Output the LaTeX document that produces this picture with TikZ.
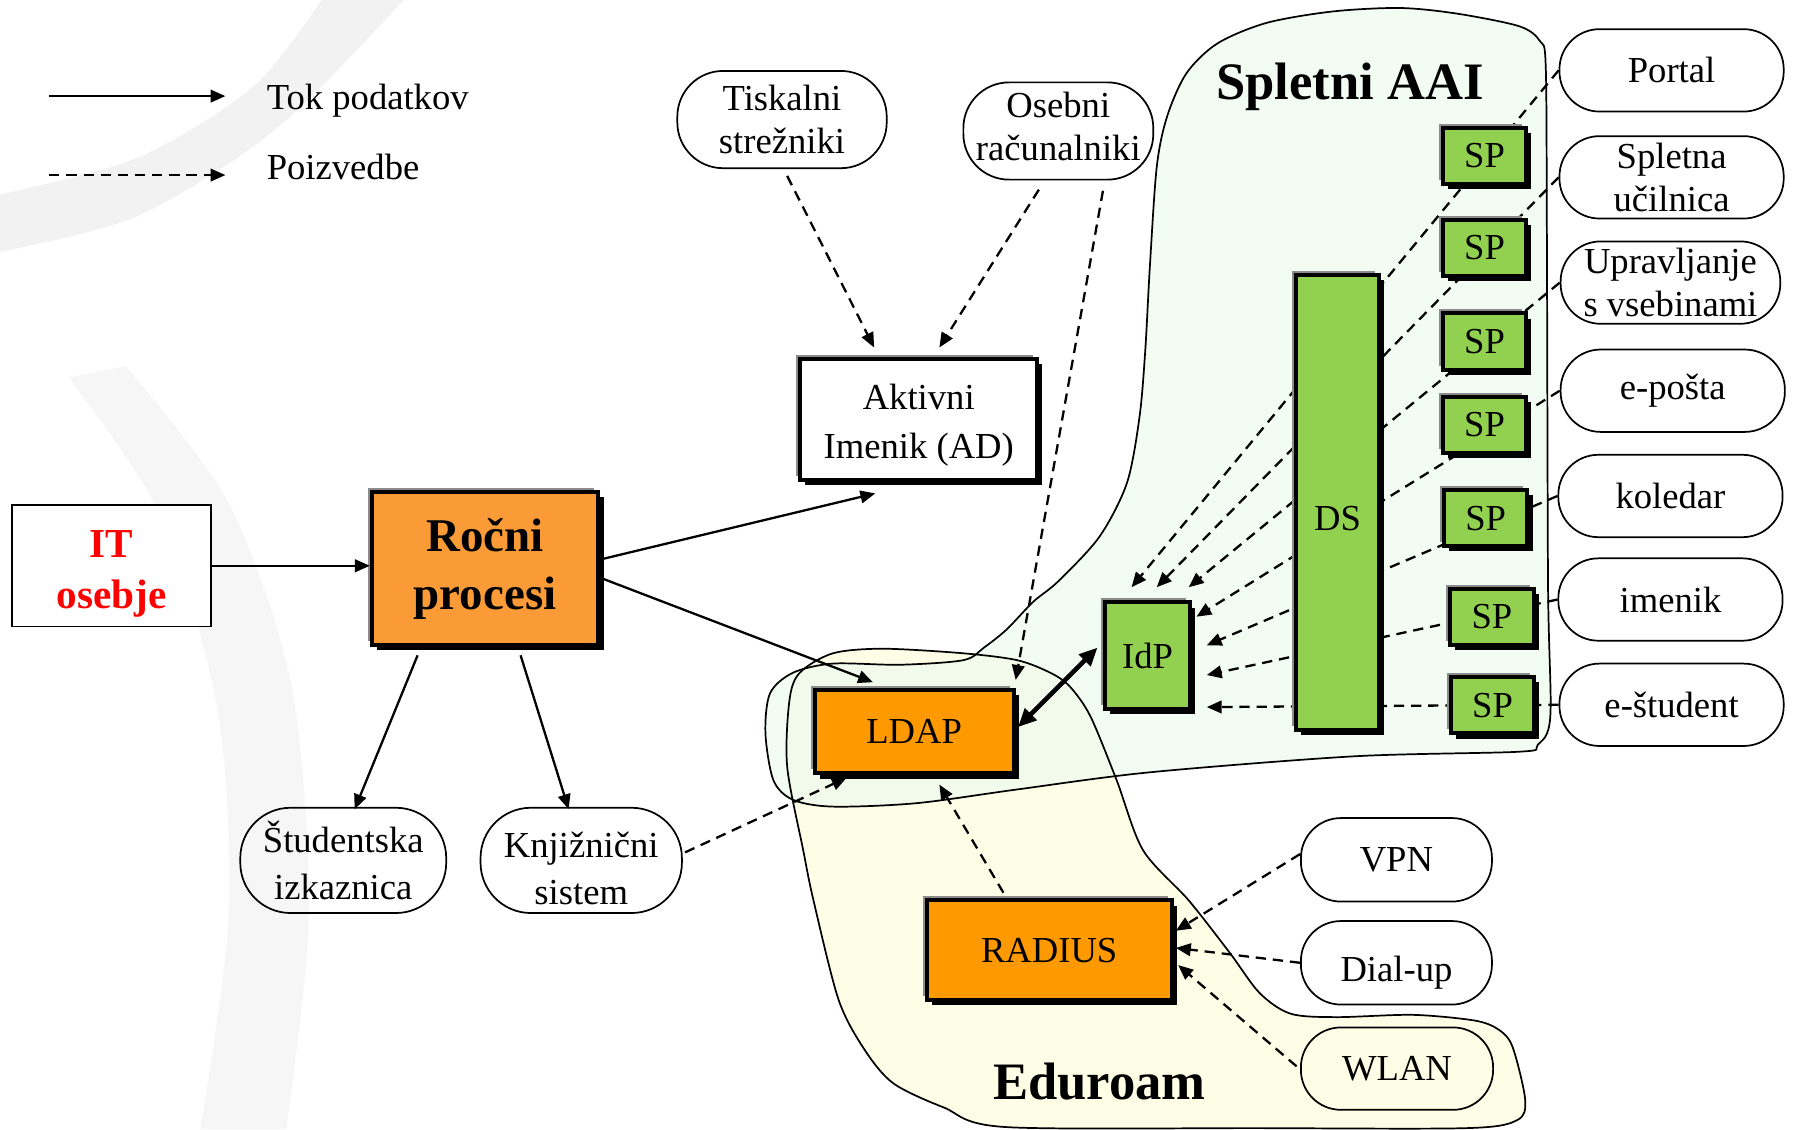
\documentclass[tikz,border=0pt]{standalone}
\usepackage{fontspec}
\setmainfont{Liberation Serif}
\usetikzlibrary{arrows.meta,shadows,calc}
\definecolor{orA}{RGB}{250,155,55}
\definecolor{orB}{RGB}{255,153,0}
\definecolor{grn}{RGB}{146,208,80}
\definecolor{spletfill}{RGB}{238,251,238}
\definecolor{edufill}{RGB}{254,254,230}
\definecolor{swoosh}{RGB}{242,242,242}
\definecolor{swooshB}{RGB}{246,246,246}
\pgfdeclarelayer{regions}
\pgfdeclarelayer{behind}
\pgfsetlayers{regions,behind,main}
\begin{document}
\begin{tikzpicture}[x=1pt,y=-1pt,line join=miter,
  txt/.style={font=\fontsize{32}{38}\selectfont, align=center, inner sep=0pt},
  pill/.style={draw, line width=1.5pt, rounded corners=#1, txt},
  box3d/.style={draw=black, line width=3.5pt, txt,
    general shadow={shadow xshift=-3.5pt, shadow yshift=3.5pt, fill=black!45},
    general shadow={shadow xshift=4.5pt, shadow yshift=-4.5pt, fill=black}},
  spbox/.style={box3d, fill=grn, minimum width=73pt, minimum height=49pt},
  rpill/.style={pill=35, minimum width=196pt, minimum height=72pt},
  flow/.style={line width=2pt, -{Triangle[length=13pt,width=11pt]}},
  query/.style={flow, dash pattern=on 9pt off 6pt},
  region/.style={line width=1.5pt, draw=black},
  regtitle/.style={font=\bfseries\fontsize{46}{50}\selectfont, inner sep=0pt}]

\useasboundingbox (0,0) rectangle (1568,987);

% ---------------- nodes ----------------
\node[draw, line width=1.5pt, fill=white, minimum width=174pt, minimum height=106pt,
      text=red, font=\bfseries\fontsize{36}{44}\selectfont, align=center] (it) at (97.5,494.5) {\rule{0pt}{38pt}IT\\osebje};
\node[box3d, fill=orA, minimum width=198pt, minimum height=134pt,
      font=\bfseries\fontsize{41}{51}\selectfont] (rocni) at (424,497) {Ročni\\procesi};
\node[box3d, fill=white, minimum width=207pt, minimum height=106pt,
      font=\fontsize{32}{43}\selectfont] (ad) at (803,366.5) {\rule{0pt}{32pt}Aktivni\\Imenik (AD)};

\node[pill=40, minimum width=183pt, minimum height=85pt] (tisk) at (683.5,104.5) {Tiskalni\\strežniki};
\node[pill=40, minimum width=166pt, minimum height=85pt] (oseb) at (925,114.5) {Osebni\\računalniki\rule[-8pt]{0pt}{8pt}};

\node[pill=44, minimum width=180pt, minimum height=92pt, font=\fontsize{32}{41}\selectfont] (stud) at (300,752) {Študentska\\izkaznica};
\node[pill=44, minimum width=176pt, minimum height=92pt, font=\fontsize{32}{41}\selectfont] (knjiz) at (508,752) {\rule{0pt}{36pt}Knjižnični\\sistem};

\node[box3d, fill=orB, minimum width=174pt, minimum height=73pt] (ldap) at (799,639.5) {LDAP};
\node[box3d, fill=orB, minimum width=214pt, minimum height=87pt] (radius) at (917,830.5) {RADIUS};
\node[box3d, fill=grn, minimum width=74pt, minimum height=93pt] (idp) at (1003,573) {IdP};
\node[box3d, fill=grn, minimum width=72pt, minimum height=398pt, text height=50pt, text depth=0pt] (ds) at (1169,439) {DS};

\node[spbox] (sp1) at (1297.5,136) {SP};
\node[spbox] (sp2) at (1297.5,216.5) {SP};
\node[spbox] (sp3) at (1297.5,298.5) {SP};
\node[spbox] (sp4) at (1297.5,371.5) {SP};
\node[spbox] (sp5) at (1298.5,453) {SP};
\node[spbox] (sp6) at (1304,539) {SP};
\node[spbox] (sp7) at (1304.5,616.5) {SP};

\node[rpill] (portal) at (1461,61.5) {Portal};
\node[rpill] (spletna) at (1461,155) {Spletna\\učilnica};
\node[rpill, minimum width=192pt] (uprav) at (1460,247) {Upravljanje\\s vsebinami};
\node[rpill] (eposta) at (1462,341.5) {e-pošta};
\node[rpill] (koledar) at (1460,433.5) {koledar};
\node[rpill] (imenik) at (1460,524) {imenik};
\node[rpill] (estud) at (1461,616) {e-študent};

\node[pill=35, minimum width=167pt, minimum height=73pt] (vpn) at (1220.5,751.5) {VPN};
\node[pill=35, minimum width=167pt, minimum height=73pt, text height=40pt, text depth=7pt] (dial) at (1220.5,841.5) {Dial-up};
\node[pill=35, minimum width=168pt, minimum height=72pt] (wlan) at (1221,934) {WLAN};

\node[regtitle] (aai) at (1180,76) {Spletni AAI};
\node[regtitle] (edu) at (961,945) {Eduroam};

% legend
\coordinate (l1a) at (43,84);  \coordinate (l1b) at (197,84);
\coordinate (l2a) at (43,153); \coordinate (l2b) at (197,153);
\draw[flow] (l1a) -- (l1b);
\draw[query] (l2a) -- (l2b);
\node[txt, anchor=west] (lg1) at (233,88) {Tok podatkov};
\node[txt, anchor=west] (lg2) at (233,146) {Poizvedbe};

% ---------------- connectors ----------------
\draw[flow] (it.east) -- (it.east -| rocni.west);
\draw[flow] ($(rocni.east)+(0,-8)$) -- ($(ad.south)+(-38,10)$);
\draw[flow] ($(rocni.east)+(0,8)$) -- ($(ldap.north)+(-36,-5)$);
\draw[flow] ($(rocni.south)+(-59,7)$) -- ($(stud.north)+(10,2)$);
\draw[flow] ($(rocni.south)+(31,7)$) -- ($(knjiz.north)+(-11,2)$);

\draw[query] ($(knjiz.east)+(2,-7)$) -- ($(ldap.south)+(-59,2)$);
\draw[query] ($(tisk.south)+(4.5,6)$) -- ($(ad.north)+(-39,-8)$);
\draw[query] ($(oseb.south)+(-17,8)$) -- ($(ad.north)+(18,-8)$);
\draw[query] ($(oseb.south)+(39,9)$) -- ($(ldap.north east)+(0,-7)$);
\draw[line width=4pt, {Triangle[length=16pt,width=14pt]}-{Triangle[length=16pt,width=14pt]}]
  ($(ldap.east)+(2,-4)$) -- ($(idp.west)+(-5,-7)$);
\draw[query] ($(radius.north)+(-40,-5)$) -- ($(ldap.south)+(22,8)$);
\draw[query] ($(vpn.west)+(0,-5)$) -- ($(radius.east)+(2,-17)$);
\draw[query] (dial.west) -- ($(radius.east)+(2,-2)$);
\draw[query] ($(wlan.west)+(-3,-2)$) -- ($(radius.east)+(4,13)$);

\coordinate (t1) at ($(idp.north)+(-14,-11.5)$);
\coordinate (t2) at ($(idp.north)+(8,-11.5)$);
\coordinate (t3) at ($(idp.north)+(36,-11.5)$);
\coordinate (t4) at ($(idp.east)+(4,-34)$);
\coordinate (t5) at ($(idp.east)+(13,-9)$);
\coordinate (t6) at ($(idp.east)+(13,17)$);
\coordinate (t7) at ($(idp.east)+(13,45)$);
\begin{pgfonlayer}{behind}
\draw[query] (portal.west) -- (t1);
\draw[query] (spletna.west) -- (t2);
\draw[query] (uprav.west) -- (t3);
\draw[query] (eposta.west) -- (t4);
\draw[query] (koledar.west) -- (t5);
\draw[query] (imenik.west) -- (t6);
\draw[query] (estud.west) -- (t7);
\end{pgfonlayer}

% ---------------- regions & background ----------------
\begin{pgfonlayer}{regions}
\fill[swoosh] plot[smooth] coordinates {(0,170) (120,138) (221,76) (281,0)}
  -- plot[smooth] coordinates {(353,0) (241,113) (120,189) (0,220)} -- cycle;
\fill[swooshB] plot[smooth] coordinates {(60,330) (140,450) (190,620) (200,800) (175,987)}
  -- plot[smooth] coordinates {(250,987) (270,800) (255,600) (200,440) (110,320)} -- cycle;

\path[fill=edufill] plot[smooth cycle, tension=0.5] coordinates {
 (690,612) (699,588) (728,571) (772,567) (842,571) (889,577) (918,588) (935,600)
 (953,626) (976,682) (999,743) (1039,787) (1075,833) (1101,868) (1128,886) (1168,889)
 (1235,887) (1289,892) (1310,900) (1322,915) (1333,961) (1326,979) (1282,986) (1100,986)
 (878,985) (825,968) (781,947) (756,918) (733,874) (711,787) (702,743) (688,670)};
\path[fill=spletfill, fill opacity=0.75] plot[smooth cycle, tension=0.5] coordinates {
 (1328,657) (1184,661) (1005,675) (889,690) (801,702) (728,705) (693,699) (676,682)
 (669,641) (673,606) (693,588) (728,580) (787,581) (842,577) (860,566) (880,550)
 (903,526) (925,508) (961,469) (985,422) (996,364) (1001,306) (1005,233) (1011,146)
 (1020,102) (1037,64) (1064,38) (1107,20) (1165,10) (1224,7) (1274,12) (1328,23)
 (1346,36) (1351,58) (1352,204) (1353,510) (1355,626) (1344,651)};
\draw[region] plot[smooth cycle, tension=0.5] coordinates {
 (690,612) (699,588) (728,571) (772,567) (842,571) (889,577) (918,588) (935,600)
 (953,626) (976,682) (999,743) (1039,787) (1075,833) (1101,868) (1128,886) (1168,889)
 (1235,887) (1289,892) (1310,900) (1322,915) (1333,961) (1326,979) (1282,986) (1100,986)
 (878,985) (825,968) (781,947) (756,918) (733,874) (711,787) (702,743) (688,670)};
\draw[region] plot[smooth cycle, tension=0.5] coordinates {
 (1328,657) (1184,661) (1005,675) (889,690) (801,702) (728,705) (693,699) (676,682)
 (669,641) (673,606) (693,588) (728,580) (787,581) (842,577) (860,566) (880,550)
 (903,526) (925,508) (961,469) (985,422) (996,364) (1001,306) (1005,233) (1011,146)
 (1020,102) (1037,64) (1064,38) (1107,20) (1165,10) (1224,7) (1274,12) (1328,23)
 (1346,36) (1351,58) (1352,204) (1353,510) (1355,626) (1344,651)};
\end{pgfonlayer}
\end{tikzpicture}
\end{document}
